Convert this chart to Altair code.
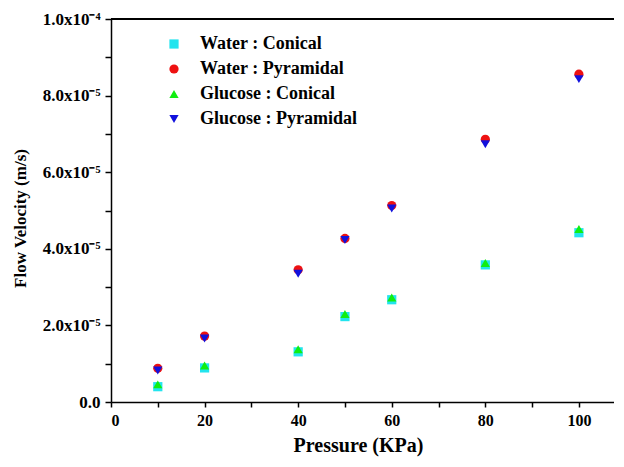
import altair as alt
import pandas as pd

pressure = [10, 20, 40, 50, 60, 80, 100]
water_conical = [4.0e-6, 8.9e-6, 13.1e-6, 22.3e-6, 26.7e-6, 35.8e-6, 44.2e-6]
water_pyramidal = [8.8e-6, 17.2e-6, 34.5e-6, 42.7e-6, 51.3e-6, 68.6e-6, 85.6e-6]
glucose_conical = [4.6e-6, 9.5e-6, 13.8e-6, 23.0e-6, 27.3e-6, 36.3e-6, 45.2e-6]
glucose_pyramidal = [8.2e-6, 16.6e-6, 33.5e-6, 42.3e-6, 50.5e-6, 67.3e-6, 84.3e-6]

series_names = ["Water : Conical", "Water : Pyramidal", "Glucose : Conical", "Glucose : Pyramidal"]
series_values = [water_conical, water_pyramidal, glucose_conical, glucose_pyramidal]
colors = ["#22E4EE", "#EE1111", "#11EE11", "#1111DD"]
shapes = ["square", "circle", "triangle-up", "triangle-down"]

y_tick_labels = ["0.0", "", "2.0x10\u207b\u2075", "", "4.0x10\u207b\u2075", "", "6.0x10\u207b\u2075", "",
                 "8.0x10\u207b\u2075", "", "1.0x10\u207b\u2074"]
x_tick_labels = ["0", "", "20", "", "40", "", "60", "", "80", "", "100"]

rows = []
for i, (name, vals) in enumerate(zip(series_names, series_values)):
    for p, v in zip(pressure, vals):
        rows.append({"Pressure": p, "Velocity": v, "Series": name, "ord": i})
df = pd.DataFrame(rows)

FONT = "Liberation Serif"
W, H = 503, 383

y_expr = "[" + ",".join("'" + s + "'" for s in y_tick_labels) + "][round(datum.value*1e5)]"
x_expr = "[" + ",".join("'" + s + "'" for s in x_tick_labels) + "][round(datum.value/10)]"

points = alt.Chart(df).mark_point(filled=True, opacity=1, size=85).encode(
    x=alt.X("Pressure:Q",
            scale=alt.Scale(domain=[0, 107.5], nice=False, zero=False),
            axis=alt.Axis(values=[0, 10, 20, 30, 40, 50, 60, 70, 80, 90, 100],
                          labelExpr=x_expr, title="Pressure (KPa)",
                          grid=False, tickSize=5, tickWidth=1.5, domainWidth=1.5,
                          domainColor="black", tickColor="black",
                          labelFont=FONT, labelFontWeight="bold", labelFontSize=16,
                          labelColor="black", labelPadding=5,
                          titleFont=FONT, titleFontWeight="bold", titleFontSize=20,
                          titleColor="black", titleX=247, titleY=43,
                          titleAnchor="middle", titleBaseline="middle")),
    y=alt.Y("Velocity:Q",
            scale=alt.Scale(domain=[0, 1e-4], nice=False),
            axis=alt.Axis(values=[i * 1e-5 for i in range(11)],
                          labelExpr=y_expr, title="Flow Velocity (m/s)",
                          grid=False, tickSize=6, tickWidth=1.5, domainWidth=1.5,
                          domainColor="black", tickColor="black",
                          labelFont=FONT, labelFontWeight="bold", labelFontSize=17,
                          labelColor="black", labelPadding=5,
                          titleFont=FONT, titleFontWeight="bold", titleFontSize=17,
                          titleColor="black", titleX=-91, titleY=199, titleAngle=270,
                          titleAnchor="middle", titleAlign="center", titleBaseline="middle")),
    color=alt.Color("Series:N", scale=alt.Scale(domain=series_names, range=colors),
                    legend=alt.Legend(title=None, orient="none", legendX=54, legendY=16,
                                      labelFont=FONT, labelFontWeight="bold", labelFontSize=18,
                                      labelColor="black", labelOffset=17, rowPadding=7,
                                      symbolSize=85, symbolStrokeWidth=0, padding=0)),
    shape=alt.Shape("Series:N", scale=alt.Scale(domain=series_names, range=shapes)),
    order=alt.Order("ord:Q"),
)

top_line = alt.Chart(df).mark_rule(color="black", strokeWidth=1.5).encode(
    x=alt.value(0), x2=alt.value(W), y=alt.value(0)
)

chart = alt.layer(points, top_line).properties(
    width=W, height=H,
    autosize=alt.AutoSizeParams(type="none"),
    padding={"left": 103, "top": 11, "right": 0, "bottom": 57},
).configure_view(stroke=None).configure(background="white")

chart.save("out.html", embed_options={"renderer": "svg", "actions": False})
